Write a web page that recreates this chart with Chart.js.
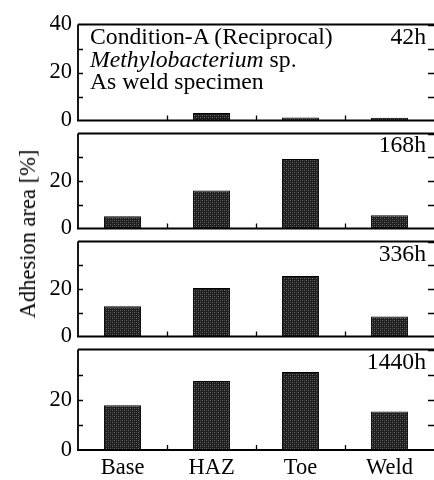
<!DOCTYPE html>
<html>
<head>
<meta charset="utf-8">
<script src="https://cdn.jsdelivr.net/npm/chart.js@4.4.1/dist/chart.umd.min.js"></script>
<style>
  html, body { margin:0; padding:0; background:#fff; width:434px; height:480px; overflow:hidden; }
  body { position:relative; font-family:"Liberation Serif","DejaVu Serif",serif; color:#000; }
  .pane { position:absolute; left:0; width:440px; }
  .txt { position:absolute; font-size:23.7px; line-height:22.5px; white-space:nowrap; }
  .time { position:absolute; left:0; width:426px; text-align:right; font-size:23.7px; line-height:22.5px; }
  #ytitle { position:absolute; left:28px; top:234px; font-size:22.5px; white-space:nowrap;
            transform:translate(-50%,-50%) rotate(-90deg); }
</style>
</head>
<body>
<div class="pane" id="p0"><canvas id="c0"></canvas></div>
<div class="pane" id="p1"><canvas id="c1"></canvas></div>
<div class="pane" id="p2"><canvas id="c2"></canvas></div>
<div class="pane" id="p3"><canvas id="c3"></canvas></div>

<div class="txt" style="left:90px;top:25px;">Condition-A (Reciprocal)<br><i>Methylobacterium</i> sp.<br>As weld specimen</div>
<div class="time" style="top:25px;">42h</div>
<div class="time" style="top:133px;">168h</div>
<div class="time" style="top:242px;">336h</div>
<div class="time" style="top:350px;">1440h</div>
<div id="ytitle">Adhesion area [%]</div>

<script>
// ---- data ----
const categories = ['Base', 'HAZ', 'Toe', 'Weld'];
const times = ['42h', '168h', '336h', '1440h'];
const h42   = [0.2, 3.1, 1.3, 1.1];
const h168  = [5.2, 16.0, 29.3, 5.6];
const h336  = [12.7, 20.4, 25.5, 8.4];
const h1440 = [17.8, 27.5, 31.0, 15.3];
const yTickLabelsTop = [0, 20, 40];
const yTickLabelsOther = [0, 20];

const series = [h42, h168, h336, h1440];
// panel chart-area top / bottom (pixels)
const panelTops = [21, 130, 238, 346];
const panelBots = [126, 234, 342, 450];

const FONT = '"Liberation Serif","DejaVu Serif",serif';

// stipple pattern for bars
function makePattern() {
  const c = document.createElement('canvas');
  c.width = 4; c.height = 4;
  const g = c.getContext('2d');
  g.fillStyle = '#1e1e1e'; g.fillRect(0, 0, 4, 4);
  g.fillStyle = '#6a6a6a';
  g.fillRect(0, 0, 1, 1); g.fillRect(2, 2, 1, 1);
  g.fillStyle = '#444';
  g.fillRect(2, 0, 1, 1); g.fillRect(0, 2, 1, 1);
  return g.createPattern(c, 'repeat');
}
const pattern = makePattern();

const framePlugin = {
  id: 'frame',
  afterDatasetsDraw(chart) {
    const ctx = chart.ctx, ca = chart.chartArea;
    const y = chart.scales.y, x = chart.scales.x;
    ctx.save();
    ctx.strokeStyle = '#000';
    ctx.lineWidth = 1.8;
    ctx.beginPath();
    ctx.moveTo(ca.left, ca.top); ctx.lineTo(ca.right + 4, ca.top);
    ctx.moveTo(ca.left, ca.top); ctx.lineTo(ca.left, ca.bottom);
    ctx.stroke();
    ctx.lineWidth = 2.2;
    ctx.beginPath();
    ctx.moveTo(ca.left - 1, ca.bottom); ctx.lineTo(ca.right + 4, ca.bottom);
    ctx.stroke();
    ctx.lineWidth = 1.3;
    ctx.beginPath();
    [10, 20, 30].forEach(v => {
      const py = Math.round(y.getPixelForValue(v)) + 0.5;
      ctx.moveTo(ca.left, py); ctx.lineTo(ca.left + 5, py);
    });
    [10, 20, 30, 40].forEach(v => {
      const py = Math.round(y.getPixelForValue(v)) + 0.5;
      ctx.moveTo(ca.right - 6, py); ctx.lineTo(ca.right, py);
    });
    for (let i = 0; i < categories.length - 1; i++) {
      const px = Math.round((x.getPixelForValue(i) + x.getPixelForValue(i + 1)) / 2) + 0.5;
      ctx.moveTo(px, ca.bottom); ctx.lineTo(px, ca.bottom - 5);
    }
    ctx.stroke();
    ctx.restore();
  }
};

series.forEach((vals, i) => {
  const isLast = i === series.length - 1;
  const padTop = 16;
  const padBot = isLast ? 0 : 14;
  const xAxisH = isLast ? 480 - panelBots[i] : 0;
  const top = panelTops[i] - padTop;
  const height = (panelBots[i] - panelTops[i]) + padTop + (isLast ? xAxisH : padBot);
  const pane = document.getElementById('p' + i);
  pane.style.top = top + 'px';
  pane.style.height = height + 'px';
  const labelsShown = i === 0 ? yTickLabelsTop : yTickLabelsOther;

  new Chart(document.getElementById('c' + i), {
    type: 'bar',
    data: {
      labels: categories,
      datasets: [{
        label: times[i],
        data: vals,
        backgroundColor: pattern,
        borderColor: '#000',
        borderWidth: 1,
        barPercentage: 0.415,
        categoryPercentage: 1.0
      }]
    },
    options: {
      responsive: true,
      maintainAspectRatio: false,
      animation: false,
      devicePixelRatio: 1,
      layout: { autoPadding: false, padding: { top: padTop, bottom: isLast ? 0 : padBot, left: 0, right: 6 } },
      plugins: { legend: { display: false }, tooltip: { enabled: false }, title: { display: false } },
      scales: {
        x: {
          display: isLast,
          offset: true,
          grid: { display: false, drawTicks: false },
          border: { display: false },
          ticks: { color: '#000', font: { family: FONT, size: 22.5 }, padding: 5, maxRotation: 0, autoSkip: false },
          afterFit(s) { s.height = xAxisH; }
        },
        y: {
          min: 0, max: 40,
          grid: { display: false, drawTicks: false },
          border: { display: false },
          ticks: {
            stepSize: 10,
            color: '#000',
            font: { family: FONT, size: 22.5 },
            padding: 6,
            callback: v => labelsShown.includes(v) ? String(v) : ''
          },
          afterFit(s) { s.width = 78; }
        }
      }
    },
    plugins: [framePlugin]
  });
});
</script>
</body>
</html>
